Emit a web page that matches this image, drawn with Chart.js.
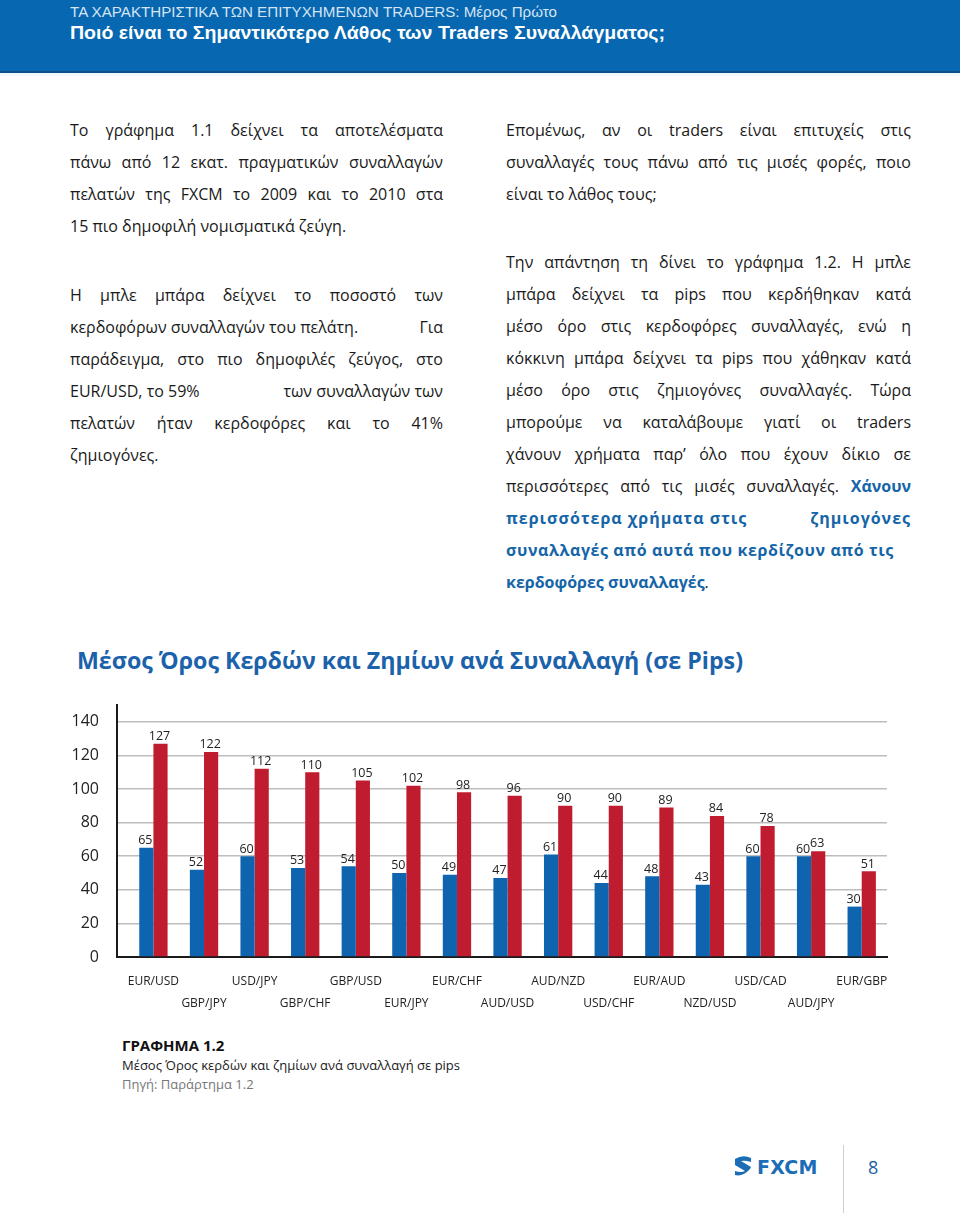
<!DOCTYPE html>
<html lang="el">
<head>
<meta charset="utf-8">
<script src="https://cdn.jsdelivr.net/npm/chart.js@4.4.1/dist/chart.umd.min.js"></script>
<style>
  html,body{margin:0;padding:0;background:#fff;}
  body{width:960px;height:1213px;position:relative;overflow:hidden;font-family:"Open Sans",sans-serif;color:#1a1a1a;}
  #header{position:absolute;left:0;top:0;width:960px;height:71px;background:#0767b1;border-bottom:2px solid #0b4f86;}
  #header:after{content:"";position:absolute;left:0;right:0;top:73px;height:4px;background:linear-gradient(#e6f6fb,#fff);}
  .hdr{position:absolute;left:70px;white-space:nowrap;transform-origin:0 50%;font-family:"Liberation Sans",Arial,sans-serif;}
  #sub{top:2px;font-size:15px;line-height:20px;color:#d5e4f3;}
  #ttl{top:21px;font-size:19px;line-height:24px;color:#fff;font-weight:bold;}
  .col{position:absolute;font-size:16px;line-height:32px;}
  .col div{text-align:justify;text-align-last:justify;white-space:nowrap;}
  .col div.l{text-align:left;text-align-last:left;}
  .col div.sb{display:flex;justify-content:space-between;}
  .blue{color:#1565a8;font-weight:bold;letter-spacing:0.6px;}
  #ctitle{position:absolute;left:77px;top:641px;font-size:24px;line-height:38px;font-weight:bold;color:#1b62ab;white-space:nowrap;transform-origin:0 50%;}
  #chartBox{position:absolute;left:0;top:690px;width:960px;height:340px;}
  #cap{position:absolute;left:122px;top:1036px;font-size:13px;line-height:19.5px;}
  #cap .h{font-weight:bold;font-size:15px;color:#111;}
  #cap .g{color:#777;}
  #logo{position:absolute;left:733px;top:1154px;height:26px;display:flex;align-items:center;}
  #logo span{font-family:"DejaVu Sans",sans-serif;font-weight:bold;font-size:19px;color:#1b6db6;margin-left:4px;letter-spacing:0.2px;}
  #vline{position:absolute;left:843px;top:1145px;width:1px;height:68px;background:#cfcfcf;}
  #pnum{position:absolute;left:868px;top:1154px;font-size:18px;line-height:26px;color:#1b5ea8;}
</style>
</head>
<body>
<div id="header">
  <div class="hdr" id="sub" data-w="487">ΤΑ ΧΑΡΑΚΤΗΡΙΣΤΙΚΑ ΤΩΝ ΕΠΙΤΥΧΗΜΕΝΩΝ TRADERS: Μέρος Πρώτο</div>
  <div class="hdr" id="ttl" data-w="595">Ποιό είναι το Σημαντικότερο Λάθος των Traders Συναλλάγματος;</div>
</div>

<div class="col" style="left:70px;top:114px;width:373px;">
  <div>Το γράφημα 1.1 δείχνει τα αποτελέσματα</div>
  <div>πάνω από 12 εκατ. πραγματικών συναλλαγών</div>
  <div>πελατών της FXCM το 2009 και το 2010 στα</div>
  <div class="l">15 πιο δημοφιλή νομισματικά ζεύγη.</div>
</div>
<div class="col" style="left:70px;top:279px;width:373px;">
  <div>Η μπλε μπάρα δείχνει το ποσοστό των</div>
  <div class="sb"><span>κερδοφόρων συναλλαγών του πελάτη.</span><span>Για</span></div>
  <div>παράδειγμα, στο πιο δημοφιλές ζεύγος, στο</div>
  <div class="sb"><span>EUR/USD, το 59%</span><span>των συναλλαγών των</span></div>
  <div>πελατών ήταν κερδοφόρες και το 41%</div>
  <div class="l">ζημιογόνες.</div>
</div>

<div class="col" style="left:506px;top:114px;width:405px;">
  <div>Επομένως, αν οι traders είναι επιτυχείς στις</div>
  <div>συναλλαγές τους πάνω από τις μισές φορές, ποιο</div>
  <div class="l">είναι το λάθος τους;</div>
</div>
<div class="col" style="left:506px;top:246px;width:405px;">
  <div>Την απάντηση τη δίνει το γράφημα 1.2. Η μπλε</div>
  <div>μπάρα δείχνει τα pips που κερδήθηκαν κατά</div>
  <div>μέσο όρο στις κερδοφόρες συναλλαγές, ενώ η</div>
  <div>κόκκινη μπάρα δείχνει τα pips που χάθηκαν κατά</div>
  <div>μέσο όρο στις ζημιογόνες συναλλαγές. Τώρα</div>
  <div>μπορούμε να καταλάβουμε γιατί οι traders</div>
  <div>χάνουν χρήματα παρ’ όλο που έχουν δίκιο σε</div>
  <div>περισσότερες από τις μισές συναλλαγές. <span class="blue" style="letter-spacing:0">Χάνουν</span></div>
  <div class="sb blue" style="letter-spacing:1px"><span>περισσότερα χρήματα στις</span><span>ζημιογόνες</span></div>
  <div class="l"><span class="blue">συναλλαγές από αυτά που κερδίζουν από τις</span></div>
  <div class="l"><span class="blue" style="letter-spacing:0">κερδοφόρες συναλλαγές</span>.</div>
</div>

<div id="ctitle" data-w="666">Μέσος Όρος Κερδών και Ζημίων ανά Συναλλαγή (σε Pips)</div>

<div id="chartBox"><canvas id="c" width="960" height="340"></canvas></div>

<div id="cap">
  <div class="h">ΓΡΑΦΗΜΑ 1.2</div>
  <div>Μέσος Όρος κερδών και ζημίων ανά συναλλαγή σε pips</div>
  <div class="g">Πηγή: Παράρτημα 1.2</div>
</div>

<div id="logo">
  <svg width="20" height="24" viewBox="0 0 20 24">
    <path d="M2 4 Q10 -1 18 3 L18 7 Q12 5 8 6 L18 12 L17 14 Q10 22 2 20 L2 16 Q8 18 12 16 L2 10 Z" fill="#1b6db6"/>
  </svg>
  <span>FXCM</span>
</div>
<div id="vline"></div>
<div id="pnum">8</div>

<script>
const categories = ['EUR/USD','GBP/JPY','USD/JPY','GBP/CHF','GBP/USD','EUR/JPY','EUR/CHF','AUD/USD','AUD/NZD','USD/CHF','EUR/AUD','NZD/USD','USD/CAD','AUD/JPY','EUR/GBP'];
const winPips  = [65,52,60,53,54,50,49,47,61,44,48,43,60,60,30];
const lossPips = [127,122,112,110,105,102,98,96,90,90,89,84,78,63,51];
const yTickValues = [0,20,40,60,80,100,120,140];

// fit header/title text to measured width
document.querySelectorAll('[data-w]').forEach(el=>{
  const w = el.getBoundingClientRect().width;
  const target = +el.dataset.w;
  if (w>0) el.style.transform = 'scaleX(' + (target/w) + ')';
});

const valueLabels = {
  id: 'valueLabels',
  afterDatasetsDraw(chart){
    const ctx = chart.ctx;
    ctx.save();
    ctx.font = '12.5px "Open Sans"';
    ctx.fillStyle = '#222';
    ctx.textAlign = 'center';
    ctx.textBaseline = 'bottom';
    chart.data.datasets.forEach((ds, di)=>{
      chart.getDatasetMeta(di).data.forEach((bar, i)=>{
        ctx.fillText(String(ds.data[i].y), bar.x - 1, bar.y - 1);
      });
    });
    ctx.restore();
  }
};

new Chart(document.getElementById('c'), {
  type: 'bar',
  data: {
    datasets: [
      { label: 'Κέρδη', data: winPips.map((v,i)=>({x:i, y:v})), backgroundColor: '#0f64b0', categoryPercentage: 0.56, barPercentage: 1.0 },
      { label: 'Ζημίες', data: lossPips.map((v,i)=>({x:i, y:v})), backgroundColor: '#c01c30', categoryPercentage: 0.56, barPercentage: 1.0 }
    ]
  },
  options: {
    responsive: false,
    animation: false,
    events: [],
    layout: { padding: { top: 15, right: 73, left: 0, bottom: 0 } },
    plugins: { legend: { display: false }, tooltip: { enabled: false } },
    scales: {
      x: {
        type: 'linear',
        offset: false,
        min: -0.72,
        max: 14.5,
        afterBuildTicks: s => { s.ticks = categories.map((c,i)=>({value:i})); },
        afterFit: s => { s.height = 73; s.paddingLeft = 0; s.paddingRight = 0; },
        grid: { display: false, drawTicks: false, offset: false },
        border: { display: true, color: '#1a1a1a', width: 2 },
        ticks: {
          autoSkip: false, maxRotation: 0, minRotation: 0, padding: 14,
          color: '#222',
          font: { family: 'Open Sans', size: 12, lineHeight: 1.8 },
          callback: v => (v % 2 === 0) ? [categories[v]] : ['', categories[v]]
        }
      },
      y: {
        min: 0,
        max: 150,
        afterBuildTicks: s => { s.ticks = yTickValues.map(v=>({value:v})); },
        afterFit: s => { s.width = 117; s.paddingTop = 0; s.paddingBottom = 0; },
        grid: { color: '#bdbdbd', lineWidth: 1.5, drawTicks: false },
        border: { display: true, color: '#1a1a1a', width: 2 },
        ticks: { padding: 18, color: '#222', font: { family: 'Open Sans', size: 16 } }
      }
    }
  },
  plugins: [valueLabels]
});
</script>
</body>
</html>
